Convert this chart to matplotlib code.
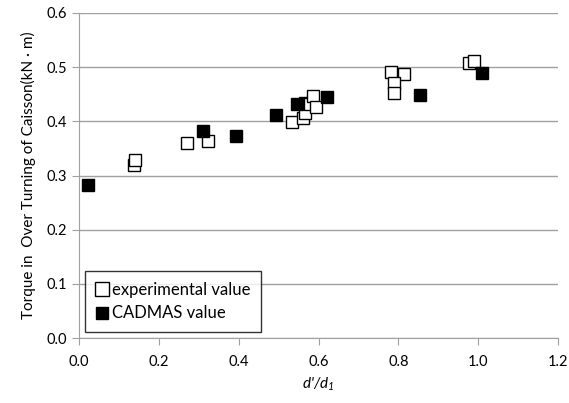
import matplotlib
matplotlib.use("Agg")
import matplotlib.pyplot as plt

plt.rcParams['font.family'] = ['Lato', 'DejaVu Sans']
plt.rcParams['mathtext.fontset'] = 'custom'
plt.rcParams['mathtext.it'] = 'Lato:italic'
plt.rcParams['mathtext.rm'] = 'Lato:italic'

# experimental measurements
exp_x = [0.137, 0.140, 0.271, 0.323, 0.534, 0.562, 0.566, 0.565, 0.579, 0.587, 0.594,
         0.782, 0.813, 0.790, 0.790, 0.977, 0.989]
exp_y = [0.319, 0.328, 0.360, 0.364, 0.399, 0.406, 0.416, 0.434, 0.432, 0.447, 0.427,
         0.491, 0.488, 0.470, 0.453, 0.507, 0.511]

# CADMAS results
cad_x = [0.023, 0.311, 0.393, 0.493, 0.545, 0.620, 0.855, 1.010]
cad_y = [0.283, 0.382, 0.372, 0.411, 0.431, 0.444, 0.448, 0.490]

fig = plt.figure(figsize=(5.69, 4.03), dpi=100)
ax = fig.add_axes([0.139, 0.161, 0.842, 0.807])

ax.plot(exp_x, exp_y, ls='none', marker='s', ms=9, mfc='white', mec='black',
        mew=1.0, label='experimental value')
ax.plot(cad_x, cad_y, ls='none', marker='s', ms=8.5, mfc='black', mec='black',
        label='CADMAS value')

ax.set_xlim(0, 1.2)
ax.set_ylim(0, 0.6)
ax.set_xticks([0.0, 0.2, 0.4, 0.6, 0.8, 1.0, 1.2])
ax.set_yticks([0.0, 0.1, 0.2, 0.3, 0.4, 0.5, 0.6])
ax.xaxis.set_major_formatter(matplotlib.ticker.FormatStrFormatter('%.1f'))
ax.yaxis.set_major_formatter(matplotlib.ticker.FormatStrFormatter('%.1f'))

ax.grid(axis='y', color='#a0a0a0', lw=1)
ax.set_axisbelow(True)
for s in ['top', 'right']:
    ax.spines[s].set_visible(False)
for s in ['left', 'bottom']:
    ax.spines[s].set_color('#a0a0a0')
ax.tick_params(axis='both', colors='#a0a0a0', labelcolor='black', labelsize=10.5,
               length=5, direction='out')
ax.tick_params(axis='x', pad=7)

ax.set_xlabel("$d$'/$d_1$", fontsize=11, fontstyle='italic', labelpad=5)
ax.set_ylabel("Torque in  Over Turning of Caisson(kN · m)", fontsize=11, labelpad=8)

leg = ax.legend(loc='lower left', bbox_to_anchor=(0.012, 0.018), fontsize=12,
                frameon=True, fancybox=False, handlelength=0.7, handletextpad=0.25,
                borderpad=0.65, labelspacing=0.45, markerscale=1.1, borderaxespad=0)
leg.get_frame().set_edgecolor('black')
leg.get_frame().set_linewidth(1.0)

fig.savefig("out.png", dpi=100)
